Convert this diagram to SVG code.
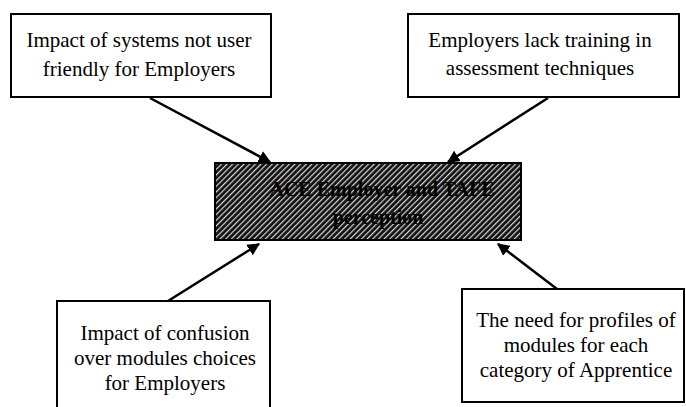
<svg xmlns="http://www.w3.org/2000/svg" width="686" height="407" viewBox="0 0 686 407">
<style>
.box{fill:#fff;stroke:#000;stroke-width:2}
.t{font-family:'Liberation Serif','DejaVu Serif',serif;font-size:21px;fill:#000;text-anchor:middle}
.c{font-family:'Liberation Serif','DejaVu Serif',serif;font-size:20px;font-weight:bold;fill:#000;text-anchor:middle}
.conn{stroke:#000;stroke-width:2.5;fill:none;marker-end:url(#ah)}
</style>
<defs>
<marker id="ah" viewBox="0 0 10 10" refX="9" refY="5" markerWidth="5" markerHeight="5" orient="auto" markerUnits="strokeWidth">
<path d="M0,0 L10,5 L0,10 z" fill="#000"/>
</marker>
<pattern id="hatch" patternUnits="userSpaceOnUse" width="4" height="4" patternTransform="rotate(45)">
<rect width="4" height="4" fill="#111"/>
<rect width="1.2" height="4" fill="#d8d8d8"/>
</pattern>
</defs>
<g id="connectors">
<line class="conn" x1="150" y1="98" x2="270" y2="162"/>
<line class="conn" x1="548" y1="98" x2="448" y2="162"/>
<line class="conn" x1="168" y1="301" x2="259" y2="244"/>
<line class="conn" x1="557" y1="289" x2="498" y2="244"/>
</g>
<g id="center">
<rect x="215" y="163" width="306" height="77" fill="url(#hatch)" stroke="#000" stroke-width="2"/>
<text class="c" x="382" y="196">ACE Employer and TAFE</text>
<text class="c" x="378" y="224">perception</text>
</g>
<g id="n1">
<rect class="box" x="11" y="14" width="260" height="83"/>
<text class="t" x="139" y="47">Impact of systems not user</text>
<text class="t" x="139" y="76">friendly for Employers</text>
</g>
<g id="n2">
<rect class="box" x="408" y="14" width="271" height="83"/>
<text class="t" x="540" y="47">Employers lack training in</text>
<text class="t" x="540" y="75">assessment techniques</text>
</g>
<g id="n3">
<rect class="box" x="57" y="301" width="213" height="110"/>
<text class="t" x="165" y="340">Impact of confusion</text>
<text class="t" x="165" y="365">over modules choices</text>
<text class="t" x="165" y="390">for Employers</text>
</g>
<g id="n4">
<rect class="box" x="462" y="289" width="222" height="113"/>
<text class="t" x="576" y="327">The need for profiles of</text>
<text class="t" x="576" y="352">modules for each</text>
<text class="t" x="576" y="377">category of Apprentice</text>
</g>
</svg>
